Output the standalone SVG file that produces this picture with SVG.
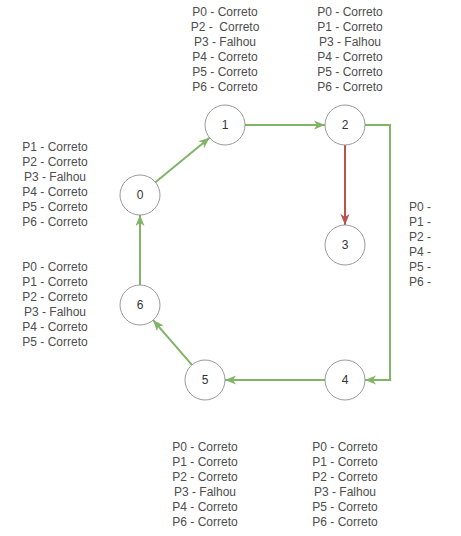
<svg xmlns="http://www.w3.org/2000/svg" width="461" height="536" viewBox="0 0 461 536">
<style>
.node circle{fill:#fff;stroke:#9a9a9a;stroke-width:1}
.node text{font-family:"Liberation Sans",Arial,Helvetica,sans-serif;font-size:12px;fill:#333;text-anchor:middle}
.lbl{font-family:"Liberation Sans",Arial,Helvetica,sans-serif;font-size:12px;fill:#4d4d4d;text-anchor:middle;white-space:pre}
.lblL{font-family:"Liberation Sans",Arial,Helvetica,sans-serif;font-size:12px;fill:#4d4d4d;text-anchor:start}
.g{fill:none;stroke:#82b366;stroke-width:2}
.r{fill:none;stroke:#b85450;stroke-width:2}
</style>
<defs>
<marker id="ag" markerUnits="userSpaceOnUse" markerWidth="12" markerHeight="10" refX="11" refY="5" orient="auto">
<path d="M0,0.5 L11,5 L0,9.5 L3,5 Z" fill="#82b366"/>
</marker>
<marker id="ar" markerUnits="userSpaceOnUse" markerWidth="12" markerHeight="10" refX="11" refY="5" orient="auto">
<path d="M0,0.5 L11,5 L0,9.5 L3,5 Z" fill="#b85450"/>
</marker>
</defs>
<g id="connectors">
<path class="g" d="M155.4,182.3 L209.6,137.7" marker-end="url(#ag)"/>
<path class="g" d="M245,125 H325" marker-end="url(#ag)"/>
<path class="r" d="M345,145 V225" marker-end="url(#ar)"/>
<path class="g" d="M365,125 H390 V380 H365" marker-end="url(#ag)"/>
<path class="g" d="M325,380 H225" marker-end="url(#ag)"/>
<path class="g" d="M191.9,364.9 L153.1,320.1" marker-end="url(#ag)"/>
<path class="g" d="M140,285 V215" marker-end="url(#ag)"/>
</g>
<g id="node0" class="node"><circle cx="140" cy="195" r="20"/><text x="140" y="199">0</text></g>
<g id="node1" class="node"><circle cx="225" cy="125" r="20"/><text x="225" y="129">1</text></g>
<g id="node2" class="node"><circle cx="345" cy="125" r="20"/><text x="345" y="129">2</text></g>
<g id="node3" class="node"><circle cx="345" cy="245" r="20"/><text x="345" y="249">3</text></g>
<g id="node4" class="node"><circle cx="345" cy="380" r="20"/><text x="345" y="384">4</text></g>
<g id="node5" class="node"><circle cx="205" cy="380" r="20"/><text x="205" y="384">5</text></g>
<g id="node6" class="node"><circle cx="140" cy="305" r="20"/><text x="140" y="309">6</text></g>
<g id="label1">
<text class="lbl" x="225" y="16">P0 - Correto</text>
<text class="lbl" x="225" y="31">P2 -  Correto</text>
<text class="lbl" x="225" y="46">P3 - Falhou</text>
<text class="lbl" x="225" y="61">P4 - Correto</text>
<text class="lbl" x="225" y="76">P5 - Correto</text>
<text class="lbl" x="225" y="91">P6 - Correto</text>
</g>
<g id="label2">
<text class="lbl" x="350" y="16">P0 - Correto</text>
<text class="lbl" x="350" y="31">P1 - Correto</text>
<text class="lbl" x="350" y="46">P3 - Falhou</text>
<text class="lbl" x="350" y="61">P4 - Correto</text>
<text class="lbl" x="350" y="76">P5 - Correto</text>
<text class="lbl" x="350" y="91">P6 - Correto</text>
</g>
<g id="label0">
<text class="lbl" x="55" y="151">P1 - Correto</text>
<text class="lbl" x="55" y="166">P2 - Correto</text>
<text class="lbl" x="55" y="181">P3 - Falhou</text>
<text class="lbl" x="55" y="196">P4 - Correto</text>
<text class="lbl" x="55" y="211">P5 - Correto</text>
<text class="lbl" x="55" y="226">P6 - Correto</text>
</g>
<g id="label6">
<text class="lbl" x="55" y="271">P0 - Correto</text>
<text class="lbl" x="55" y="286">P1 - Correto</text>
<text class="lbl" x="55" y="301">P2 - Correto</text>
<text class="lbl" x="55" y="316">P3 - Falhou</text>
<text class="lbl" x="55" y="331">P4 - Correto</text>
<text class="lbl" x="55" y="346">P5 - Correto</text>
</g>
<g id="label3">
<text class="lblL" x="409" y="211">P0 -</text>
<text class="lblL" x="409" y="226">P1 -</text>
<text class="lblL" x="409" y="241">P2 -</text>
<text class="lblL" x="409" y="256">P4 -</text>
<text class="lblL" x="409" y="271">P5 -</text>
<text class="lblL" x="409" y="286">P6 -</text>
</g>
<g id="label5">
<text class="lbl" x="205" y="451">P0 - Correto</text>
<text class="lbl" x="205" y="466">P1 - Correto</text>
<text class="lbl" x="205" y="481">P2 - Correto</text>
<text class="lbl" x="205" y="496">P3 - Falhou</text>
<text class="lbl" x="205" y="511">P4 - Correto</text>
<text class="lbl" x="205" y="526">P6 - Correto</text>
</g>
<g id="label4">
<text class="lbl" x="345" y="451">P0 - Correto</text>
<text class="lbl" x="345" y="466">P1 - Correto</text>
<text class="lbl" x="345" y="481">P2 - Correto</text>
<text class="lbl" x="345" y="496">P3 - Falhou</text>
<text class="lbl" x="345" y="511">P5 - Correto</text>
<text class="lbl" x="345" y="526">P6 - Correto</text>
</g>
</svg>
